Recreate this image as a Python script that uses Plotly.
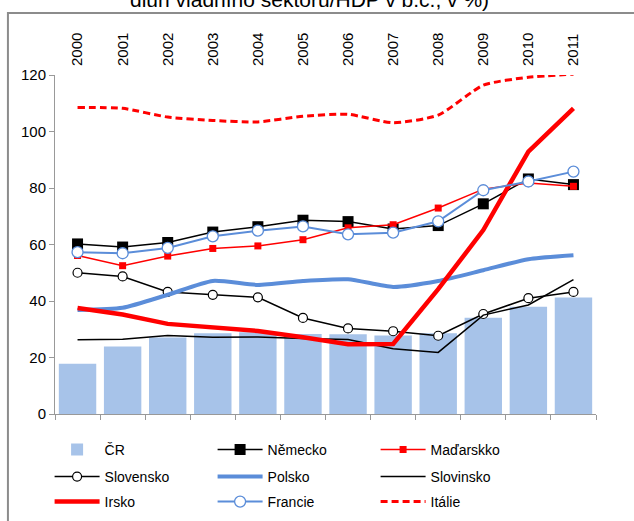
import plotly.graph_objects as go

# general government debt / GDP, %
years = [str(y) for y in range(2000, 2012)]
cr = [17.8, 23.9, 27.1, 28.6, 28.9, 28.3, 28.2, 27.8, 28.6, 34.1, 38.0, 41.2]
nemecko = [60.2, 59.1, 60.7, 64.4, 66.3, 68.6, 68.1, 65.5, 66.7, 74.4, 83.2, 81.2]
madarsko = [56.1, 52.5, 55.9, 58.6, 59.5, 61.7, 65.9, 67.0, 72.9, 79.6, 81.8, 80.6]
slovensko = [50.0, 48.7, 43.2, 42.2, 41.3, 34.0, 30.3, 29.3, 27.7, 35.4, 41.0, 43.2]
polsko = [36.8, 37.6, 42.2, 47.1, 45.7, 47.1, 47.7, 45.0, 47.1, 50.9, 54.8, 56.2]
slovinsko = [26.3, 26.5, 27.8, 27.2, 27.3, 26.7, 26.4, 23.1, 21.8, 35.0, 38.6, 47.6]
irsko = [37.5, 35.2, 31.9, 30.7, 29.4, 27.2, 24.7, 24.8, 44.2, 65.1, 92.9, 108.2]
francie = [57.3, 56.9, 58.8, 62.9, 64.9, 66.4, 63.6, 64.2, 68.2, 79.2, 82.3, 85.8]
italie = [108.5, 108.2, 105.1, 103.9, 103.4, 105.4, 106.1, 103.1, 105.8, 116.4, 119.2, 120.3]

title_text = "dluh vládního sektoru/HDP v b.c., v %)"

FONT = "Liberation Sans, Arial, sans-serif"
BLUE = "#5b8dd9"

fig = go.Figure()

# legend rows: legend (row 1), legend2 (row 2), legend3 (row 3)
fig.add_trace(go.Bar(x=years, y=cr, name="ČR", legend="legend",
                     marker=dict(color="#a7c3e9", line=dict(width=0))))

fig.add_trace(go.Scatter(
    x=years, y=nemecko, name="Německo", mode="lines+markers", legend="legend",
    line=dict(color="black", width=1.5),
    marker=dict(symbol="square", size=11, color="black"),
))
fig.add_trace(go.Scatter(
    x=years, y=madarsko, name="Maďarskko", mode="lines+markers", legend="legend",
    line=dict(color="#ff0000", width=1.5),
    marker=dict(symbol="square", size=7, color="#ff0000"),
))
fig.add_trace(go.Scatter(
    x=years, y=slovensko, name="Slovensko", mode="lines+markers", legend="legend2",
    line=dict(color="black", width=1.5),
    marker=dict(symbol="circle", size=9, color="white", line=dict(color="black", width=1.2)),
))
fig.add_trace(go.Scatter(
    x=years, y=polsko, name="Polsko", mode="lines", legend="legend2",
    line=dict(color=BLUE, width=4, shape="spline", smoothing=0.6),
))
fig.add_trace(go.Scatter(
    x=years, y=slovinsko, name="Slovinsko", mode="lines", legend="legend2",
    line=dict(color="black", width=1.5),
))
fig.add_trace(go.Scatter(
    x=years, y=irsko, name="Irsko", mode="lines", legend="legend3",
    line=dict(color="#ff0000", width=4.5),
))
fig.add_trace(go.Scatter(
    x=years, y=francie, name="Francie", mode="lines+markers", legend="legend3",
    line=dict(color=BLUE, width=2),
    marker=dict(symbol="circle", size=11, color="white", line=dict(color=BLUE, width=1.3)),
))
fig.add_trace(go.Scatter(
    x=years, y=italie, name="Itálie", mode="lines", legend="legend3",
    line=dict(color="#ff0000", width=3, dash="7px,4px", shape="spline", smoothing=0.6),
))

# year labels on top
fig.add_trace(go.Scatter(
    x=years, y=[None] * len(years), xaxis="x2", showlegend=False, hoverinfo="skip",
))

legend_base = dict(
    orientation="h", x=-0.01, xanchor="left", yanchor="top",
    entrywidth=103, itemwidth=45, font=dict(size=14), traceorder="normal",
    bgcolor="rgba(0,0,0,0)",
)

fig.update_layout(
    width=634, height=521,
    margin=dict(l=55, r=38, t=75, b=107, autoexpand=False),
    paper_bgcolor="white", plot_bgcolor="white",
    font=dict(family=FONT, size=15, color="black"),
    bargap=0.17,
    showlegend=True,
    legend=dict(legend_base, y=(414 - 434) / 339),
    legend2=dict(legend_base, y=(414 - 461) / 339),
    legend3=dict(legend_base, y=(414 - 486) / 339),
    xaxis=dict(
        type="category", categoryorder="array", categoryarray=years,
        range=[-0.5, 11.5], showticklabels=False,
        showline=True, linecolor="#999999", linewidth=1,
        ticks="outside", tickson="boundaries", ticklen=5, tickcolor="#999999",
        showgrid=False, zeroline=False,
    ),
    xaxis2=dict(
        type="category", categoryorder="array", categoryarray=years,
        overlaying="x", side="top", anchor="y", range=[-0.5, 11.5],
        tickangle=-90, showline=False, ticks="", showgrid=False,
        ticklabelstandoff=8,
    ),
    yaxis=dict(
        range=[0, 120], dtick=20, showline=True, linecolor="#999999", linewidth=1,
        ticks="outside", ticklen=5, tickcolor="#999999",
        showgrid=False, zeroline=False,
    ),
    shapes=[dict(
        type="rect", xref="paper", yref="paper",
        x0=-0.087, x1=1.2, y0=-0.5, y1=1.183,
        line=dict(color="#8c8c8c", width=2), layer="below",
    )],
    annotations=[dict(
        text=title_text, xref="paper", yref="paper",
        x=(309 - 55) / 541, y=1.222, xanchor="center", yanchor="middle",
        showarrow=False, font=dict(size=21, family=FONT),
    )],
)

# page body has a default 8px margin; drop it so the figure sits at the window corner
fig.write_html("out.html", config={"displayModeBar": False},
               post_script="document.body.style.margin='0px';")
